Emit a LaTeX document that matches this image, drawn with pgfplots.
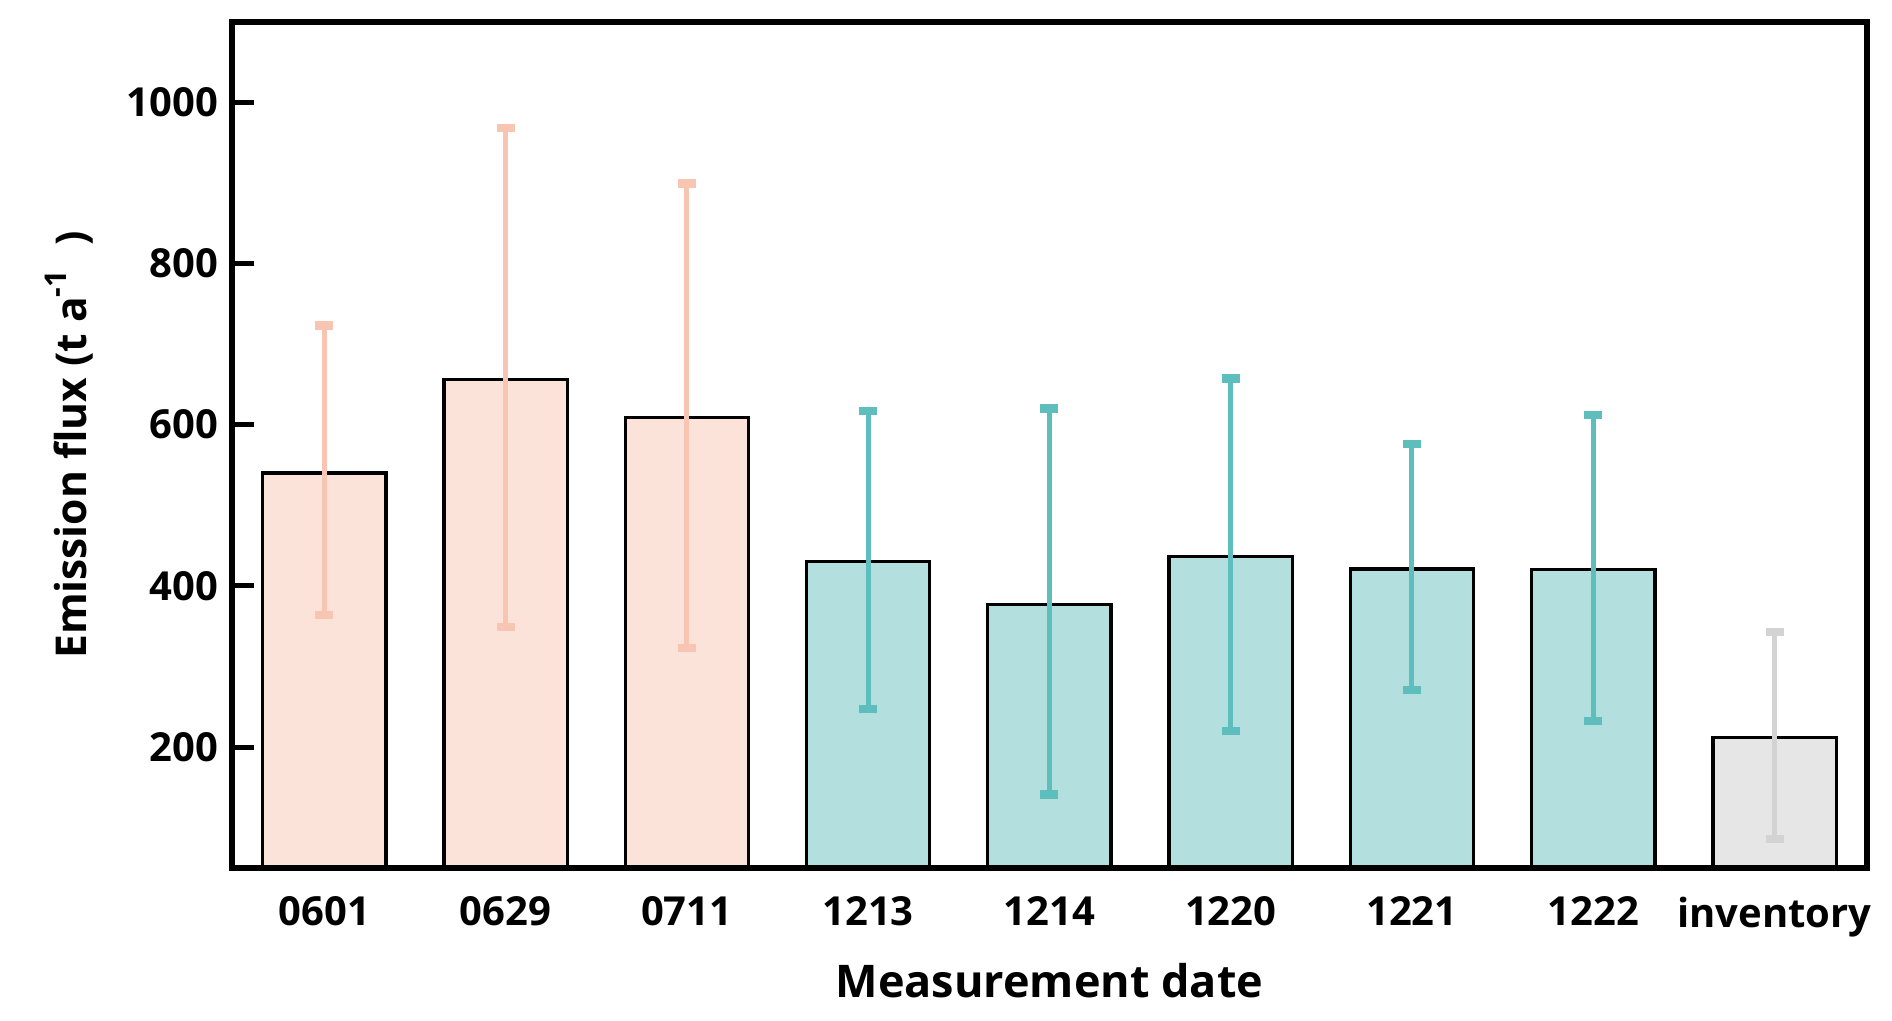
\documentclass[border=0pt]{standalone}
\usepackage{fontspec}
\setmainfont{Open Sans}
\usepackage{pgfplots}
\pgfplotsset{compat=1.18}
\definecolor{peachF}{HTML}{FCE3DA}
\definecolor{peachE}{HTML}{F9C5B3}
\definecolor{tealF}{HTML}{B3DFDF}
\definecolor{tealE}{HTML}{5EBEBE}
\definecolor{grayF}{HTML}{E6E6E6}
\definecolor{grayE}{HTML}{D3D3D3}
\begin{document}
\begin{tikzpicture}
\begin{axis}[
  name=ax,
  scale only axis,
  width=654pt, height=338.4pt,
  xmin=-0.51, xmax=8.51,
  ymin=50, ymax=1100,
  axis line style={line width=2.4pt},
  axis on top,
  xtick={0,1,2,3,4,5,6,7,8},
  xticklabels={0601,0629,0711,1213,1214,1220,1221,1222,inventory},
  major x tick style={draw=none},
  ytick={200,400,600,800,1000},
  ytick pos=left,
  tick align=inside,
  major tick length=8.8pt,
  major y tick style={line width=2pt,black},
  /pgf/number format/assume math mode=true,
  /pgf/number format/1000 sep={},
  yticklabel style={font=\fontsize{16}{18}\selectfont\bfseries, xshift=-2pt},
  xticklabel style={font=\fontsize{16}{18}\selectfont\bfseries, yshift=-8pt},
  every axis x label/.style={at={(axis description cs:0.5,0)}, anchor=center, yshift=-45pt, font=\fontsize{18}{22}\selectfont\bfseries},
  every axis y label/.style={at={(axis description cs:0,0.5)}, anchor=center, rotate=90, yshift=65pt, font=\fontsize{17}{22}\selectfont\bfseries},
  xlabel={Measurement date},
  ylabel={Emission flux (t a\raisebox{0.85ex}{\fontsize{12}{12}\selectfont -1}\,\, )},
  clip=false,
]
\addplot[ybar, bar shift=0pt, bar width=0.68, fill=peachF, draw=black, line width=1.3pt,
  error bars/.cd, y dir=both, y explicit,
  error bar style={draw=peachE, line width=2pt},
  error mark options={draw=peachE, line width=3.4pt, mark size=3.6pt, rotate=90}]
  coordinates {
  (0,540) += (0,183) -= (0,176)
  (1,656) += (0,312) -= (0,307)
  (2,609) += (0,290) -= (0,286)
  };
\addplot[ybar, bar shift=0pt, bar width=0.68, fill=tealF, draw=black, line width=1.3pt,
  error bars/.cd, y dir=both, y explicit,
  error bar style={draw=tealE, line width=2pt},
  error mark options={draw=tealE, line width=3.4pt, mark size=3.6pt, rotate=90}]
  coordinates {
  (3,430) += (0,187) -= (0,183)
  (4,377) += (0,243) -= (0,236)
  (5,436) += (0,221) -= (0,216)
  (6,421) += (0,155) -= (0,150)
  (7,420) += (0,192) -= (0,188)
  };
\addplot[ybar, bar shift=0pt, bar width=0.68, fill=grayF, draw=black, line width=1.3pt,
  error bars/.cd, y dir=both, y explicit,
  error bar style={draw=grayE, line width=2pt},
  error mark options={draw=grayE, line width=3.4pt, mark size=3.6pt, rotate=90}]
  coordinates {
  (8,212) += (0,131) -= (0,126)
  };
\end{axis}
\pgfresetboundingbox
\path[use as bounding box] ([xshift=-92.7pt,yshift=-61pt]ax.south west) rectangle ([xshift=10pt,yshift=8.7pt]ax.north east);
\end{tikzpicture}
\end{document}
